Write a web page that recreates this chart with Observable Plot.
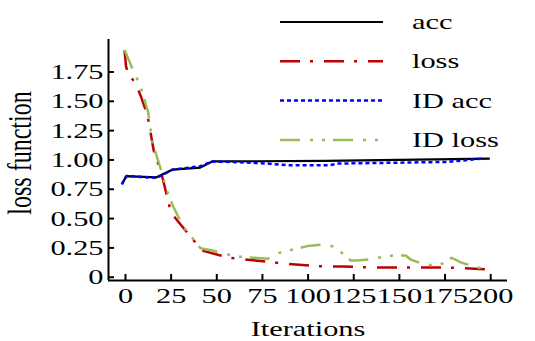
<!DOCTYPE html>
<html><head><meta charset="utf-8">
<script src="https://cdn.jsdelivr.net/npm/d3@7"></script>
<script src="https://cdn.jsdelivr.net/npm/@observablehq/plot@0.6"></script>
<style>
html,body{margin:0;padding:0;background:#fff;}
#chart{position:relative;width:535px;height:341px;}
#legend{position:absolute;left:0;top:0;pointer-events:none;}
</style></head><body>
<div id="chart"></div>
<script>
// ---- data ----
const seriesNames = ["acc", "loss", "ID acc", "ID loss"];

const accX = [-2, 0.5, 17, 25.6, 41, 47.5, 110, 199.5];
const accY = [0.775, 0.845, 0.835, 0.90, 0.918, 0.97, 0.975, 0.995];

const lossX = [-0.5, 0.3, 1.7, 5.5, 8.8, 12.1, 15.5, 19.5, 25, 42, 56.4, 71.2, 88.2, 105.2, 118.9, 135.9, 176.4, 198.4];
const lossY = [1.92, 1.78, 1.71, 1.64, 1.51, 1.36, 1.06, 0.88, 0.53, 0.21, 0.15, 0.126, 0.097, 0.077, 0.074, 0.066, 0.066, 0.049];

const idAccX = [-2, 0.5, 17, 25.7, 41, 47.5, 63, 77.6, 88.6, 112, 116, 176, 196];
const idAccY = [0.775, 0.846, 0.83, 0.90, 0.93, 0.97, 0.963, 0.952, 0.938, 0.938, 0.952, 0.966, 0.995];

const idLossX = [-0.5, 3.3, 8.2, 12.4, 14.8, 19.2, 22.5, 26.3, 31.8, 41.1, 47.7, 60.3, 70.1, 77.8, 84, 100, 107, 114, 118.9, 123.3, 126.6, 133.2, 140.3, 146.8, 153.4, 156.2, 162.2, 168.8, 174.2, 178.6, 183.6, 190.7, 196.2];
const idLossY = [1.92, 1.78, 1.61, 1.39, 1.13, 0.91, 0.73, 0.58, 0.41, 0.23, 0.21, 0.16, 0.15, 0.14, 0.19, 0.25, 0.26, 0.245, 0.185, 0.126, 0.126, 0.134, 0.154, 0.168, 0.168, 0.134, 0.10, 0.083, 0.10, 0.149, 0.11, 0.074, 0.055];

const xTicks = [0, 25, 50, 75, 100, 125, 150, 175, 200];
const xTickLabels = ["0", "25", "50", "75", "100", "125", "150", "175", "200"];
const yTicks = [0, 0.25, 0.5, 0.75, 1.0, 1.25, 1.5, 1.75];
const yTickLabels = ["0", "0.25", "0.50", "0.75", "1.00", "1.25", "1.50", "1.75"];
const xLabel = "Iterations";
const yLabel = "loss function";

// ---- styles ----
const strokes = ["#000000", "#c00000", "#0000ff", "#9bbb59"];
const dashes = [undefined, "20,10,3,11", "4,3", "20,10,3,9,3,8"];
const widths = [2.2, 2.5, 2.5, 2.5];
const FONT = "'Liberation Serif', 'Times New Roman', serif";
const SX = 1.38;

const xs = [accX, lossX, idAccX, idLossX];
const ys = [accY, lossY, idAccY, idLossY];
const rows = seriesNames.map((name, k) => xs[k].map((x, i) => ({series: name, x, y: ys[k][i]})));

const xDomain = [-9.3, 209.2];
const yDomain = [-0.045, 2.01];

const plot = Plot.plot({
  width: 535, height: 341,
  marginLeft: 108, marginRight: 28, marginTop: 39, marginBottom: 61,
  style: {fontFamily: FONT, fontSize: "22px", background: "#fff", color: "#000", overflow: "visible"},
  x: {domain: xDomain},
  y: {domain: yDomain},
  marks: [
    ...rows.map((data, k) => Plot.line(data, {
      x: "x", y: "y", stroke: strokes[k], strokeWidth: widths[k],
      strokeDasharray: dashes[k], strokeLinecap: "butt", strokeLinejoin: "round"
    })),
    Plot.ruleX([xDomain[0]], {stroke: "#000", strokeWidth: 2}),
    Plot.ruleY([yDomain[0]], {stroke: "#000", strokeWidth: 2}),
    Plot.axisX({ticks: xTicks, tickFormat: d => xTickLabels[xTicks.indexOf(d)], tickSize: -6, tickPadding: 13, strokeWidth: 2, label: null, fontSize: 22, fill: "#000"}),
    Plot.axisY({ticks: yTicks, tickFormat: d => yTickLabels[yTicks.indexOf(d)], tickSize: -6, tickPadding: 11, strokeWidth: 2, label: null, fontSize: 22, dy: 2, fill: "#000"}),
    Plot.text([xLabel], {text: d => d, frameAnchor: "bottom", lineAnchor: "middle", textAnchor: "middle", dy: 48, fontSize: 22, fill: "#000"}),
    Plot.text([yLabel], {text: d => d, frameAnchor: "left", rotate: -90, lineAnchor: "middle", textAnchor: "middle", dx: -88, dy: -7, fontSize: 24, fill: "#000"})
  ]
});

// horizontal stretch of text, as in the reference
plot.querySelectorAll("text").forEach(t => {
  const tr = t.getAttribute("transform") || "";
  const s = tr.includes("rotate") ? ` scale(1,${SX})` : ` scale(${SX},1)`;
  t.setAttribute("transform", tr + s);
});

const chart = document.getElementById("chart");
chart.appendChild(plot);

// legend overlay
const leg = d3.create("svg").attr("id", "legend").attr("width", 535).attr("height", 341)
  .style("font-family", FONT).style("font-size", "22px");
seriesNames.forEach((name, k) => {
  const y = 22 + k * 39.3;
  leg.append("line").attr("x1", 280).attr("x2", 383).attr("y1", y).attr("y2", y)
    .attr("stroke", strokes[k]).attr("stroke-width", widths[k])
    .attr("stroke-dasharray", dashes[k] || null);
  leg.append("text").attr("transform", `translate(412,${y + 7}) scale(${SX},1)`)
    .attr("fill", "#000").text(name);
});
chart.appendChild(leg.node());
</script>
</body></html>
